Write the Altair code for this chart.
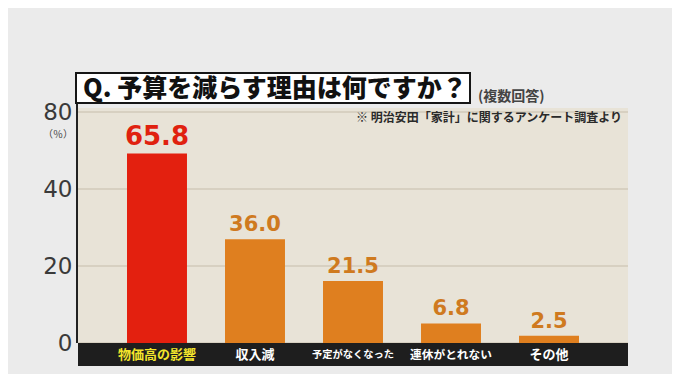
import altair as alt
import pandas as pd

categories = ["物価高の影響", "収入減", "予定がなくなった", "連休がとれない", "その他"]
values = [65.8, 36.0, 21.5, 6.8, 2.5]
value_labels = ["65.8", "36.0", "21.5", "6.8", "2.5"]
y_tick_labels = ["80", "40", "20", "0"]
title_text = "Q. 予算を減らす理由は何ですか？"
note_text = "(複数回答)"
source_text = "※ 明治安田「家計」に関するアンケート調査より"
unit_text = "（％）"

W, H = 550, 235
BAR_MAX = 81.6
RED = "#e3200f"
ORANGE = "#df7f1f"
JP = "Noto Sans CJK JP"

df = pd.DataFrame({"category": categories, "value": values, "label": value_labels})
ticks = pd.DataFrame({"tick": y_tick_labels})

x_enc = alt.X("category:N", sort=categories,
              scale=alt.Scale(paddingInner=0.388, paddingOuter=0.5), axis=None)
y_bar = alt.Y("value:Q", scale=alt.Scale(domain=[0, BAR_MAX], nice=False, zero=True), axis=None)
is_first = alt.datum.category == categories[0]

grid = alt.Chart(ticks).mark_rule(color="#d7d0c1", strokeWidth=2).encode(
    y=alt.Y("tick:O", sort=y_tick_labels,
            scale=alt.Scale(type="point", range=[4, H], padding=0),
            axis=alt.Axis(orient="left", title=None, domain=False, ticks=False,
                          labelFontSize=23, labelFont="DejaVu Sans", labelColor="#3a3a3a",
                          labelPadding=6, labelBaseline="middle")),
    x=alt.value(0), x2=alt.value(W),
)

def txt(s):
    return pd.DataFrame({"t": [s]})

left_line = alt.Chart(txt("")).mark_rule(color="#222222", strokeWidth=2).encode(
    x=alt.value(-1), y=alt.value(-5), y2=alt.value(H)
)

bars = alt.Chart(df).mark_bar().encode(
    x=x_enc, y=y_bar,
    color=alt.condition(is_first, alt.value(RED), alt.value(ORANGE)),
)

vlabels = alt.Chart(df).mark_text(baseline="bottom", dy=-4, font="DejaVu Sans",
                                  fontWeight="bold").encode(
    x=x_enc, y=y_bar, text="label:N",
    color=alt.condition(is_first, alt.value("#e0210f"), alt.value("#cf7a1f")),
    size=alt.condition(is_first, alt.value(26), alt.value(21)),
)

band = alt.Chart(txt("")).mark_rect(color="#1e1e1e").encode(
    x=alt.value(0), x2=alt.value(W), y=alt.value(H), y2=alt.value(H + 23)
)

cat_text = alt.Chart(df).transform_calculate(
    fs="min(13, 82 / length(datum.category))"
).mark_text(font=JP, fontWeight="bold", baseline="middle").encode(
    x=x_enc, y=alt.value(H + 12), text="category:N",
    size=alt.Size("fs:Q", scale=None, legend=None),
    color=alt.condition(is_first, alt.value("#f3e52c"), alt.value("#ffffff")),
)

title_box = alt.Chart(txt("")).mark_rect(fill="#ffffff", stroke="#161616", strokeWidth=2).encode(
    x=alt.value(-2), x2=alt.value(392), y=alt.value(-35), y2=alt.value(-5)
)

title = alt.Chart(txt(title_text)).mark_text(font=JP, fontWeight=900, fontSize=25,
                                             align="left", baseline="middle",
                                             color="#111111").encode(
    x=alt.value(5), y=alt.value(-19), text="t:N"
)

note = alt.Chart(txt(note_text)).mark_text(font=JP, fontWeight="bold", fontSize=14,
                                           align="left", baseline="middle",
                                           color="#444444").encode(
    x=alt.value(400), y=alt.value(-11), text="t:N"
)

source = alt.Chart(txt(source_text)).mark_text(font=JP, fontWeight="bold", fontSize=12,
                                               align="right", baseline="middle",
                                               color="#2a2a2a").encode(
    x=alt.value(544), y=alt.value(10), text="t:N"
)

unit = alt.Chart(txt(unit_text)).mark_text(font=JP, fontSize=10, align="right",
                                           baseline="middle", color="#444444").encode(
    x=alt.value(-5), y=alt.value(27), text="t:N"
)

chart = alt.layer(
    grid, left_line, bars, vlabels, band, cat_text, title_box, title, note, source, unit
).resolve_scale(y="independent").properties(
    width=W, height=H,
    autosize=alt.AutoSizeParams(type="none"),
    padding={"left": 70, "top": 100, "right": 44, "bottom": 31},
    background="#ebebeb",
).configure_view(fill="#e8e3d7", strokeWidth=0)

chart.save("out.html", embed_options={"renderer": "svg", "actions": False})
